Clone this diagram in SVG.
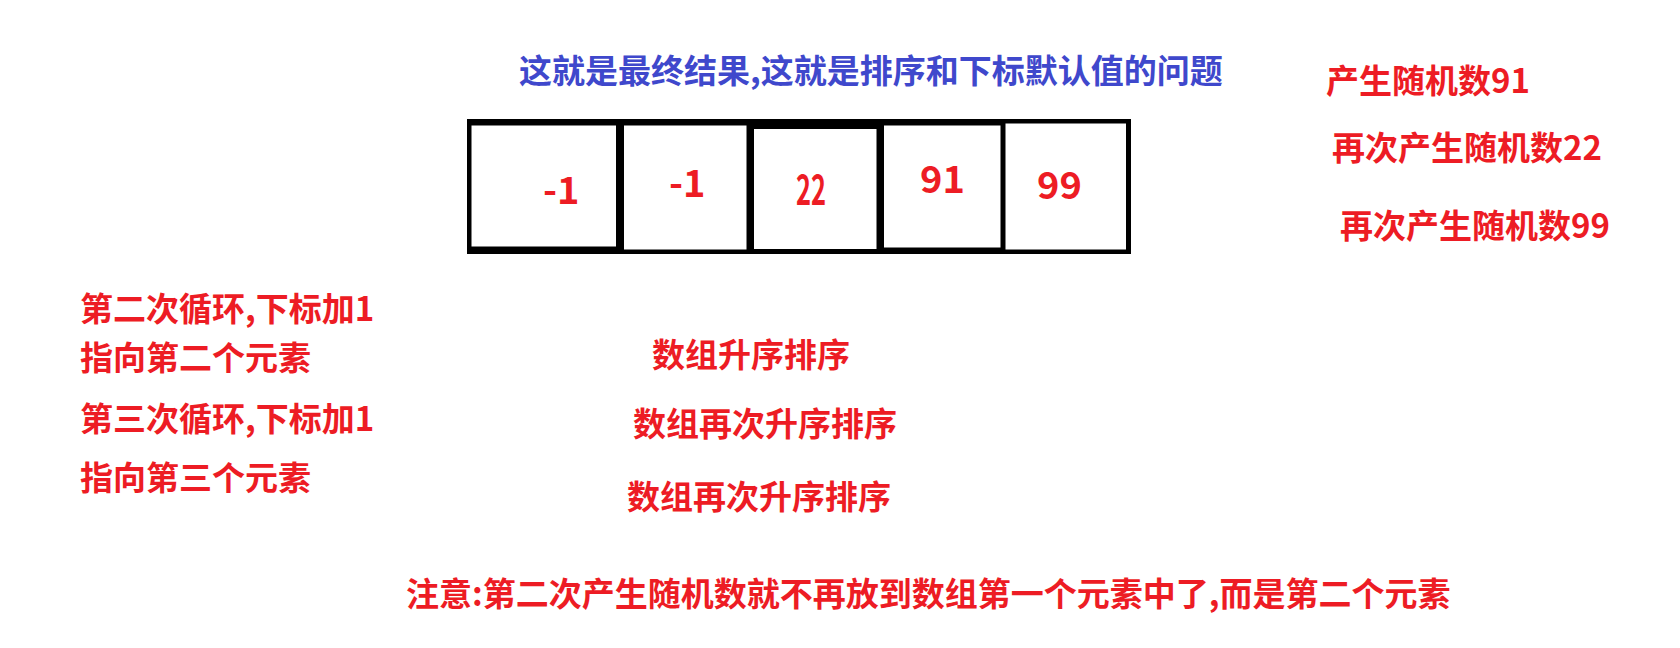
<svg xmlns="http://www.w3.org/2000/svg" width="1680" height="648" viewBox="0 0 1680 648">
<style>
text{font-family:"Noto Sans CJK SC","Noto Sans",sans-serif;font-weight:bold;font-size:33px;fill:#ed1c24}
.blue{fill:#3f48cc}
.num{font-size:38px}
.cell{fill:#fff}
</style>
<rect width="1680" height="648" fill="#fff"/>
<g id="array">
<rect x="467" y="119" width="664" height="135" fill="#000"/>
<g id="cell1"><rect class="cell" x="471.5" y="125.5" width="144.5" height="121"/><text class="num" x="543" y="204">-1</text></g>
<g id="cell2"><rect class="cell" x="624" y="125.5" width="122.5" height="124"/><text class="num" x="669" y="197">-1</text></g>
<g id="cell3"><rect class="cell" x="754" y="129" width="122.5" height="120"/><text class="num" x="796" y="205" style="font-size:41px" textLength="30" lengthAdjust="spacingAndGlyphs">22</text></g>
<g id="cell4"><rect class="cell" x="884" y="125.5" width="116.5" height="122"/><text class="num" x="920" y="193">91</text></g>
<g id="cell5"><rect class="cell" x="1005.5" y="123.5" width="120.5" height="126"/><text class="num" x="1037" y="199">99</text></g>
</g>
<g id="title"><text class="blue" x="519" y="83">这就是最终结果,这就是排序和下标默认值的问题</text></g>
<g id="right-notes">
<text x="1326" y="93">产生随机数91</text>
<text x="1332" y="160">再次产生随机数22</text>
<text x="1340" y="238">再次产生随机数99</text>
</g>
<g id="left-notes">
<text x="80" y="321">第二次循环,下标加1</text>
<text x="80" y="370">指向第二个元素</text>
<text x="80" y="431">第三次循环,下标加1</text>
<text x="80" y="490">指向第三个元素</text>
</g>
<g id="middle-notes">
<text x="652" y="367">数组升序排序</text>
<text x="633" y="436">数组再次升序排序</text>
<text x="627" y="509">数组再次升序排序</text>
</g>
<g id="footer"><text x="406" y="606">注意:第二次产生随机数就不再放到数组第一个元素中了,而是第二个元素</text></g>
<g id="connectors"></g>
</svg>
